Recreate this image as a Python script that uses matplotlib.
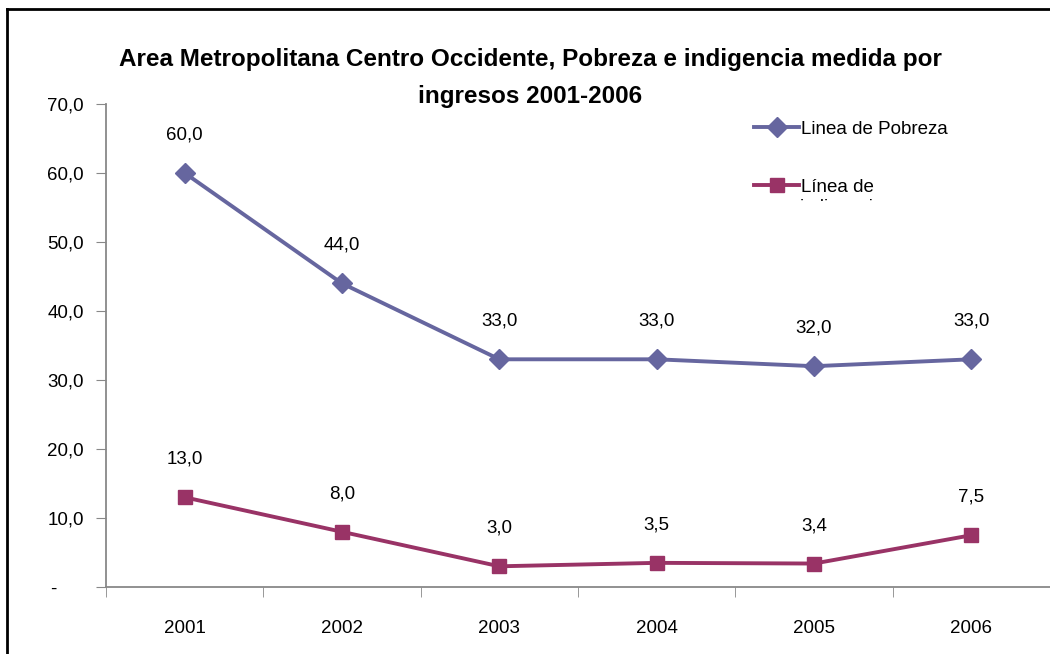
import matplotlib
matplotlib.use("Agg")
import matplotlib.pyplot as plt
from matplotlib.lines import Line2D
from matplotlib.transforms import Bbox

# Data
years = ["2001", "2002", "2003", "2004", "2005", "2006"]
pobreza = [60.0, 44.0, 33.0, 33.0, 32.0, 33.0]
indigencia = [13.0, 8.0, 3.0, 3.5, 3.4, 7.5]
pobreza_labels = ["60,0", "44,0", "33,0", "33,0", "32,0", "33,0"]
indigencia_labels = ["13,0", "8,0", "3,0", "3,5", "3,4", "7,5"]
y_ticks = [0, 10, 20, 30, 40, 50, 60, 70]
y_tick_labels = ["-     ", "10,0", "20,0", "30,0", "40,0", "50,0", "60,0", "70,0"]

title = "Area Metropolitana Centro Occidente, Pobreza e indigencia medida por\ningresos 2001-2006"

c_pob = "#66669f"
c_ind = "#993366"
font = "Liberation Sans"

fig = plt.figure(figsize=(10.5, 6.54), dpi=100)
ax = fig.add_axes([106 / 1050, 1 - 587 / 654, 1 - 106 / 1050, (587 - 104) / 654])

x = list(range(len(years)))
ax.plot(x, pobreza, color=c_pob, lw=2.8, marker="D", ms=10, label="Linea de Pobreza", clip_on=False)
ax.plot(x, indigencia, color=c_ind, lw=2.8, marker="s", ms=10.5, label="Línea de", clip_on=False)

for i in x:
    ax.text(i, pobreza[i] + 5.5, pobreza_labels[i], ha="center", va="center", fontsize=13.5, family=font)
    ax.text(i, indigencia[i] + 5.5, indigencia_labels[i], ha="center", va="center", fontsize=13.5, family=font)

ax.set_xlim(-0.5, 5.5)
ax.set_ylim(0, 70)
ax.set_yticks(y_ticks)
ax.set_yticklabels(y_tick_labels, family=font, fontsize=13.5)
ax.set_xticks(x)
ax.set_xticklabels(years, family=font, fontsize=13.5)
ax.set_xticks([i - 0.5 for i in range(len(years) + 1)], minor=True)
ax.tick_params(axis="x", which="major", length=0, pad=24)
ax.tick_params(axis="x", which="minor", length=7, color="#888888", direction="out")
ax.tick_params(axis="y", length=7, color="#888888", pad=9)
for s in ["top", "right"]:
    ax.spines[s].set_visible(False)
for s in ["left", "bottom"]:
    ax.spines[s].set_color("#888888")
    ax.spines[s].set_linewidth(1.3)

leg = ax.legend(loc="upper left", bbox_to_anchor=(745 / 1050, 1 - 111 / 654),
                bbox_transform=fig.transFigure, frameon=False, prop={"family": font, "size": 13.5},
                handlelength=2.4, handletextpad=0.1, labelspacing=2.2, borderpad=0)

# wrapped second line of the legend label, clipped like in the original
t = fig.text(800 / 1050, 1 - 207 / 654, "indigencia", fontsize=13.5, family=font, va="center")
t.set_clip_box(Bbox.from_extents(0, 654 - 201, 1050, 654))
t.set_clip_on(True)

fig.text(530 / 1050, 1 - 78 / 654, title, ha="center", va="center", fontsize=17.5,
         fontweight="bold", family=font, linespacing=1.8)

# outer frame
fig.add_artist(Line2D([7 / 1050, 1], [1 - 9 / 654, 1 - 9 / 654], color="black", lw=2, transform=fig.transFigure))
fig.add_artist(Line2D([7 / 1050, 7 / 1050], [0, 1 - 9 / 654], color="black", lw=2, transform=fig.transFigure))

fig.savefig("out.png", dpi=100)
